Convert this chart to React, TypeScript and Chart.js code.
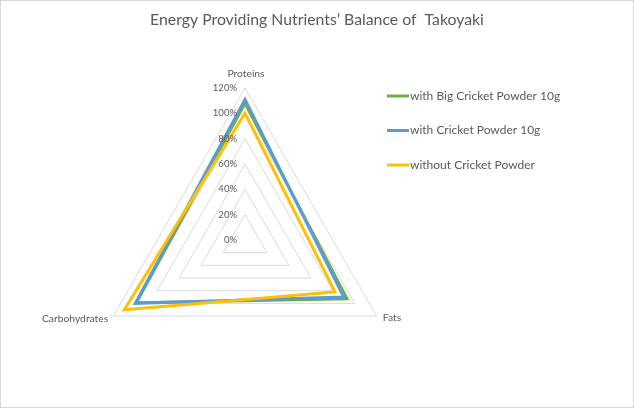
import { useEffect, useRef } from 'react'
import Chart from 'chart.js/auto'

const categories = ['Proteins', 'Fats', 'Carbohydrates']
const seriesNames = ['with Big Cricket Powder 10g', 'with Cricket Powder 10g', 'without Cricket Powder']
const bigCricket = [108, 93, 99]
const cricket = [111, 90, 100]
const noCricket = [100, 82, 110]
const tickValues = [0, 20, 40, 60, 80, 100, 120]
const colors = ['#70AD47', '#5B9BD5', '#FFC000']

const FONT = 'Lato, "Open Sans", sans-serif'
const TEXT = '#595959'

// title, border, tick labels, point labels and the legend are drawn here
const decorPlugin = {
  id: 'decor',
  afterDraw(chart: any) {
    const { ctx, width, height } = chart
    const r = chart.scales.r
    ctx.save()

    ctx.strokeStyle = '#d9d9d9'
    ctx.lineWidth = 1
    ctx.strokeRect(0.5, 0.5, width - 1, height - 1)

    ctx.fillStyle = TEXT
    ctx.font = `15.8px ${FONT}`
    ctx.textAlign = 'center'
    ctx.textBaseline = 'middle'
    ctx.fillText('Energy Providing Nutrients\u2019 Balance of  Takoyaki', width / 2, 20)

    // tick labels, left of the vertical axis
    ctx.font = `9.5px ${FONT}`
    ctx.textAlign = 'right'
    tickValues.forEach((v) => {
      const d = r.getDistanceFromCenterForValue(v)
      ctx.fillText(`${v}%`, r.xCenter - 8, r.yCenter - d)
    })

    // category labels
    ctx.font = `10.3px ${FONT}`
    categories.forEach((c, i) => {
      const p = r.getPointPosition(i, r.drawingArea + 6)
      if (i === 0) {
        ctx.textAlign = 'center'
        ctx.fillText(c, p.x + 1, p.y - 8)
      } else if (p.x < r.xCenter) {
        ctx.textAlign = 'right'
        ctx.fillText(c, p.x, p.y)
      } else {
        ctx.textAlign = 'left'
        ctx.fillText(c, p.x + 1, p.y - 1)
      }
    })

    // legend
    ctx.font = `12px ${FONT}`
    ctx.textAlign = 'left'
    ctx.lineWidth = 3
    seriesNames.forEach((name, i) => {
      const y = 96 + i * 34.5
      ctx.strokeStyle = colors[i]
      ctx.beginPath()
      ctx.moveTo(387, y)
      ctx.lineTo(409, y)
      ctx.stroke()
      ctx.fillStyle = TEXT
      ctx.fillText(name, 410, y)
    })

    ctx.restore()
  },
}

export default function App() {
  const canvasRef = useRef<HTMLCanvasElement>(null)
  const chartRef = useRef<Chart | null>(null)

  useEffect(() => {
    document.body.style.margin = '0'
    if (!canvasRef.current) return
    const values = [bigCricket, cricket, noCricket]

    chartRef.current = new Chart(canvasRef.current, {
      type: 'radar',
      data: {
        labels: categories,
        datasets: seriesNames.map((name, i) => ({
          label: name,
          data: values[i],
          borderColor: colors[i],
          backgroundColor: colors[i],
          borderWidth: 3,
          borderJoinStyle: 'miter',
          pointRadius: 0,
          fill: false,
          order: 3 - i,
        })),
      },
      options: {
        responsive: false,
        animation: false,
        layout: { padding: { left: 93, top: 88, right: 237, bottom: 16 } },
        scales: {
          r: {
            min: 0,
            max: 120,
            ticks: { stepSize: 20, display: false },
            grid: { color: '#d9d9d9', lineWidth: 1, circular: false },
            angleLines: { display: false },
            pointLabels: { display: false },
          },
        },
        plugins: {
          legend: { display: false },
          tooltip: { enabled: false },
        },
      },
      plugins: [decorPlugin],
    })

    return () => {
      chartRef.current?.destroy()
    }
  }, [])

  return (
    <div style={{ width: 634, height: 408, background: '#fff' }}>
      <canvas ref={canvasRef} width={634} height={408} />
    </div>
  )
}
